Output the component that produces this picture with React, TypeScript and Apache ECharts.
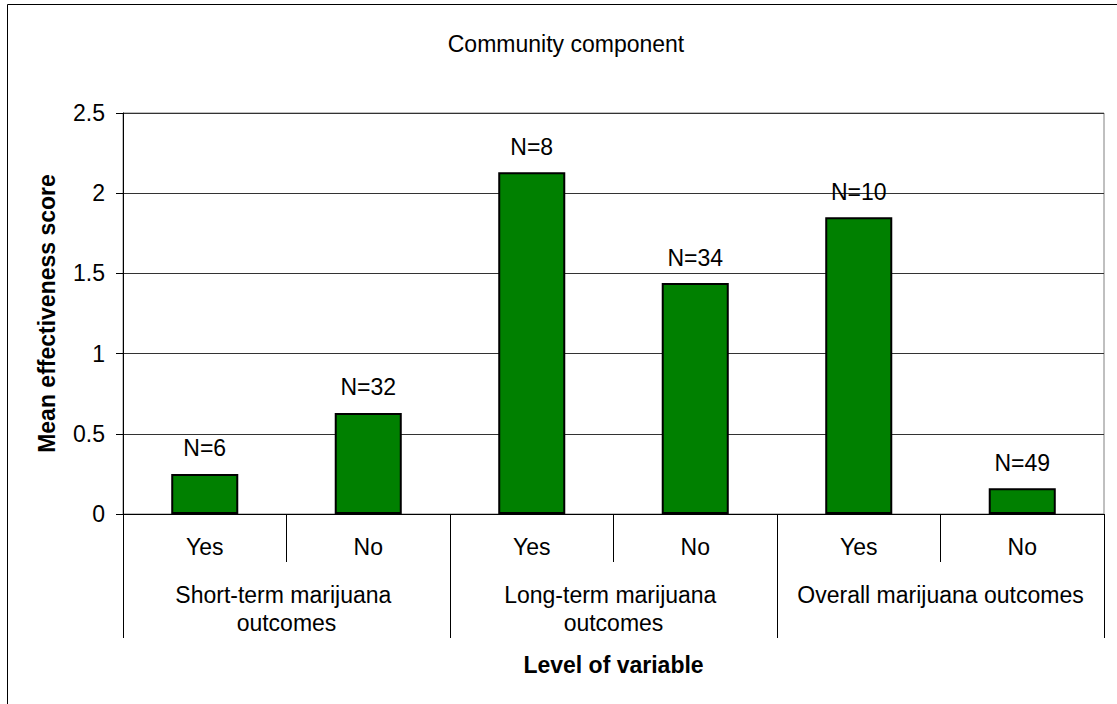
import React, { useEffect, useRef } from "react";
import * as echarts from "echarts";

const levels = ["Yes", "No", "Yes", "No", "Yes", "No"];
const groups = [
  "Short-term marijuana outcomes",
  "Long-term marijuana outcomes",
  "Overall marijuana outcomes",
];
const meanScores = [0.25, 0.63, 2.13, 1.44, 1.85, 0.16];
const sampleSizes = [6, 32, 8, 34, 10, 49];
const yTicks = { min: 0, max: 2.5, interval: 0.5 };

const FONT = "'Liberation Sans', Arial, Helvetica, sans-serif";

export default function App() {
  const ref = useRef<HTMLDivElement>(null);
  useEffect(() => {
    if (!ref.current) return;
    const chart = echarts.init(ref.current, undefined, { renderer: "svg" });
    chart.setOption({
      animation: false,
      backgroundColor: "#fff",
      textStyle: { fontFamily: FONT, color: "#000" },
      title: {
        text: "Community component",
        left: 561,
        top: 27,
        textAlign: "center",
        textStyle: { fontFamily: FONT, fontSize: 23, fontWeight: "normal", color: "#000" },
      },
      graphic: [
        {
          type: "rect",
          shape: { x: 7.5, y: 4.5, width: 1300, height: 900 },
          style: { fill: "none", stroke: "#000", lineWidth: 1 },
          silent: true,
        },
      ],
      grid: {
        left: 123,
        top: 113,
        right: 13,
        bottom: 190,
        show: true,
        borderColor: "#808080",
        borderWidth: 1,
      },
      xAxis: [
        {
          type: "category",
          data: levels,
          position: "bottom",
          axisLine: { show: true, lineStyle: { color: "#000", width: 1 } },
          axisTick: { show: true, interval: 0, length: 48, lineStyle: { color: "#000" } },
          axisLabel: {
            interval: 0,
            margin: 21,
            fontFamily: FONT,
            fontSize: 23,
            color: "#000",
          },
        },
        {
          type: "category",
          data: groups,
          position: "bottom",
          name: "Level of variable",
          nameLocation: "middle",
          nameGap: 139,
          nameTextStyle: { fontFamily: FONT, fontSize: 23, fontWeight: "bold", color: "#000" },
          axisLine: { show: false },
          axisTick: { show: true, interval: 0, length: 124, lineStyle: { color: "#000" } },
          axisLabel: {
            interval: 0,
            margin: 67,
            fontFamily: FONT,
            fontSize: 23,
            color: "#000",
            lineHeight: 28,
            width: 305,
            overflow: "break",
          },
        },
      ],
      yAxis: {
        type: "value",
        min: yTicks.min,
        max: yTicks.max,
        interval: yTicks.interval,
        name: "Mean effectiveness score",
        nameLocation: "middle",
        nameGap: 65,
        nameTextStyle: { fontFamily: FONT, fontSize: 23, fontWeight: "bold", color: "#000" },
        axisLine: { show: true, lineStyle: { color: "#000", width: 1 } },
        axisTick: { show: true, length: 7, lineStyle: { color: "#000" } },
        axisLabel: { margin: 18, fontFamily: FONT, fontSize: 23, color: "#000" },
        splitLine: { show: true, lineStyle: { color: "#333", width: 1 } },
      },
      series: [
        {
          type: "bar",
          xAxisIndex: 0,
          data: meanScores,
          barWidth: "41%",
          itemStyle: { color: "#008000", borderColor: "#000", borderWidth: 2 },
          label: {
            show: true,
            position: "top",
            distance: 14,
            fontFamily: FONT,
            fontSize: 23,
            color: "#000",
            formatter: (p: any) => "N=" + sampleSizes[p.dataIndex],
          },
        },
      ],
    });
    return () => chart.dispose();
  }, []);
  return (
    <div
      ref={ref}
      style={{ position: "fixed", left: 0, top: 0, width: 1117, height: 704, background: "#fff" }}
    />
  );
}
